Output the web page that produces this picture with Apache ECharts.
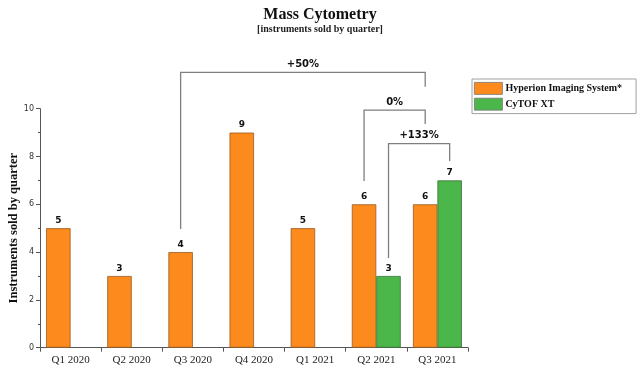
<!DOCTYPE html>
<html>
<head>
<meta charset="utf-8">
<script src="https://cdn.jsdelivr.net/npm/echarts@6/dist/echarts.min.js"></script>
<style>
  html, body { margin: 0; padding: 0; background: #fff; }
  #chart { width: 640px; height: 371px; }
</style>
</head>
<body>
<div id="chart"></div>
<script>
const quarters = ['Q1 2020', 'Q2 2020', 'Q3 2020', 'Q4 2020', 'Q1 2021', 'Q2 2021', 'Q3 2021'];
const hyperion = [5, 3, 4, 9, 5, 6, 6];
const cytof = [null, null, null, null, null, 3, 7];

// growth brackets: [category, series] at each end, heights in axis units
const bracketLabels = ['+50%', '0%', '+133%'];
const bracketFrom = [[2, 0], [5, 0], [5, 1]];
const bracketTo = [[6, 0], [6, 0], [6, 1]];
const bracketTop = [11.52, 9.94, 8.54];
const bracketLeftEnd = [4.97, 6.97, 3.75];
const bracketRightEnd = [10.92, 9.36, 7.81];

const ORANGE = '#FC8A1D';
const GREEN = '#4BB649';
const serif = '"Liberation Serif", "DejaVu Serif", serif';
const sans = '"DejaVu Sans", Verdana, sans-serif';

const bracketData = bracketLabels.map((l, i) => [
  bracketFrom[i][0], bracketFrom[i][1], bracketTo[i][0], bracketTo[i][1],
  bracketLeftEnd[i], bracketTop[i], bracketRightEnd[i], l,
]);

const chart = echarts.init(document.getElementById('chart'), null, { renderer: 'canvas' });

const barLabel = {
  show: true,
  position: 'top',
  distance: 3,
  fontFamily: sans,
  fontWeight: 'bold',
  fontSize: 9,
  color: '#111',
};

chart.setOption({
  animation: false,
  title: {
    text: 'Mass Cytometry',
    subtext: '[instruments sold by quarter]',
    left: 'center',
    top: 2,
    itemGap: 1,
    textStyle: { fontFamily: serif, fontWeight: 'bold', fontSize: 16, color: '#111' },
    subtextStyle: { fontFamily: serif, fontWeight: 'bold', fontSize: 10, color: '#222' },
  },
  legend: {
    orient: 'vertical',
    left: 472,
    top: 79,
    icon: 'rect',
    itemWidth: 28,
    itemHeight: 12,
    itemGap: 3,
    padding: [3, 14, 3, 2],
    borderColor: '#a0a0a0',
    borderWidth: 1,
    itemStyle: { borderWidth: 0.8, borderColor: '#777' },
    textStyle: { fontFamily: serif, fontWeight: 'bold', fontSize: 10, color: '#111', padding: [0, 0, 0, -2] },
    data: ['Hyperion Imaging System*', 'CyTOF XT'],
  },
  grid: { left: 40, right: 172, top: 108.7, bottom: 23.3, outerBoundsMode: 'none' },
  xAxis: {
    type: 'category',
    data: quarters,
    axisLine: { lineStyle: { color: '#555', width: 1 } },
    axisTick: { show: true, length: 4, lineStyle: { color: '#555' } },
    axisLabel: { fontFamily: serif, fontSize: 11, color: '#222', margin: 7 },
  },
  yAxis: {
    type: 'value',
    min: 0,
    max: 10,
    interval: 2,
    name: 'Instruments sold by quarter',
    nameLocation: 'middle',
    nameGap: 20,
    nameMoveOverlap: false,
    nameTextStyle: { fontFamily: serif, fontWeight: 'bold', fontSize: 12.5, color: '#111' },
    axisLine: { show: true, lineStyle: { color: '#555', width: 1 } },
    axisTick: { show: true, length: 4, lineStyle: { color: '#555' } },
    minorTick: { show: true, splitNumber: 2, length: 2, lineStyle: { color: '#555' } },
    splitLine: { show: false },
    axisLabel: { fontFamily: sans, fontSize: 8, color: '#333', margin: 6 },
  },
  series: [
    {
      name: 'Hyperion Imaging System*',
      type: 'bar',
      data: hyperion,
      barGap: '0%',
      barCategoryGap: '20%',
      itemStyle: { color: ORANGE, borderColor: '#9a5a1e', borderWidth: 0.8 },
      label: barLabel,
    },
    {
      name: 'CyTOF XT',
      type: 'bar',
      data: cytof,
      itemStyle: { color: GREEN, borderColor: '#3a6e38', borderWidth: 0.8 },
      label: barLabel,
    },
    {
      type: 'custom',
      silent: true,
      clip: false,
      z: 5,
      data: bracketData,
      encode: { x: 0, y: 5 },
      renderItem: (params, api) => {
        const band = api.size([1, 0])[0];
        const off = band * 0.2;
        const xOf = (cat, s) => api.coord([cat, 0])[0] + (s === 0 ? -off : off);
        const x0 = xOf(api.value(0), api.value(1));
        const x1 = xOf(api.value(2), api.value(3));
        const yL = api.coord([0, api.value(4)])[1];
        const yT = api.coord([0, api.value(5)])[1];
        const yR = api.coord([0, api.value(6)])[1];
        const label = bracketData[params.dataIndex][7];
        return {
          type: 'group',
          children: [
            {
              type: 'polyline',
              shape: { points: [[x0, yL], [x0, yT], [x1, yT], [x1, yR]] },
              style: { stroke: '#7f7f7f', lineWidth: 1.3, fill: null },
            },
            {
              type: 'text',
              style: {
                x: (x0 + x1) / 2,
                y: yT - 3,
                text: label,
                align: 'center',
                verticalAlign: 'bottom',
                font: 'bold 10px ' + sans,
                fill: '#111',
              },
            },
          ],
        };
      },
    },
  ],
});
</script>
</body>
</html>
